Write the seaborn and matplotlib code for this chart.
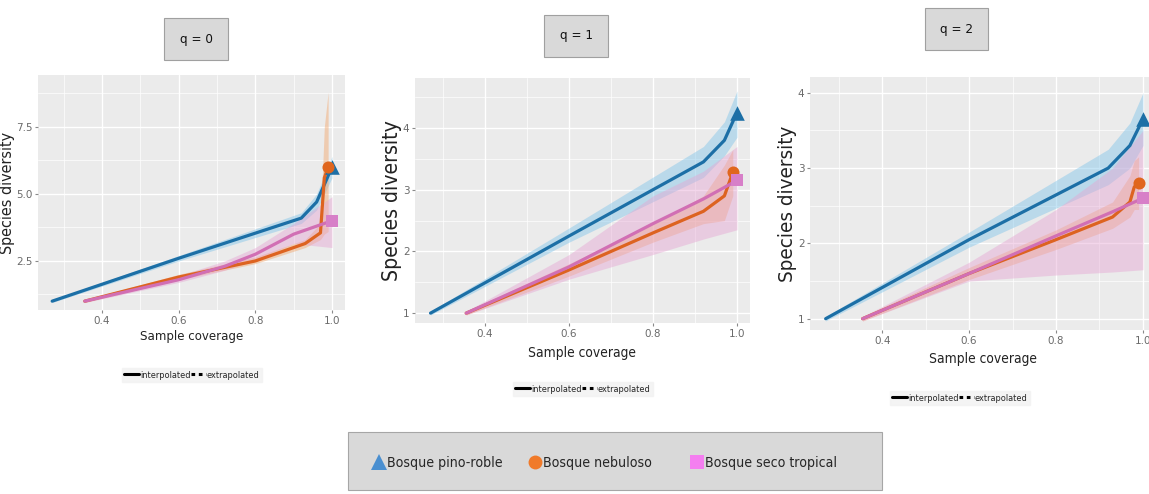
import numpy as np
import pandas as pd
import matplotlib
matplotlib.use("Agg")
import matplotlib.pyplot as plt
import seaborn as sns
from matplotlib import font_manager as fm
from matplotlib.patches import Rectangle
from matplotlib.lines import Line2D
from matplotlib.ticker import AutoMinorLocator, FixedLocator

# ---------------- data ----------------
sites = ["Bosque pino-roble", "Bosque nebuloso", "Bosque seco tropical"]
panel_titles = ["q = 0", "q = 1", "q = 2"]

# q = 0
q0_pr_x = [0.27, 0.60, 0.92, 0.96, 1.00]
q0_pr_y = [1.00, 2.60, 4.10, 4.70, 6.00]
q0_pr_lo = [0.95, 2.50, 3.90, 4.40, 5.60]
q0_pr_hi = [1.05, 2.70, 4.30, 5.00, 6.40]
q0_nb_x = [0.355, 0.60, 0.80, 0.93, 0.97, 0.98, 0.99]
q0_nb_y = [1.00, 1.90, 2.50, 3.15, 3.55, 5.60, 6.00]
q0_nb_lo = [0.95, 1.80, 2.40, 3.00, 3.30, 3.50, 3.60]
q0_nb_hi = [1.05, 2.00, 2.65, 3.30, 3.90, 7.50, 8.80]
q0_st_x = [0.355, 0.60, 0.72, 0.80, 0.90, 1.00]
q0_st_y = [1.00, 1.80, 2.30, 2.75, 3.50, 4.00]
q0_st_lo = [0.95, 1.70, 2.15, 2.55, 3.15, 3.00]
q0_st_hi = [1.05, 1.95, 2.50, 3.00, 3.90, 4.90]

# q = 1
q1_pr_x = [0.27, 0.60, 0.92, 0.97, 1.00]
q1_pr_y = [1.00, 2.25, 3.45, 3.80, 4.25]
q1_pr_lo = [0.97, 2.15, 3.20, 3.55, 3.85]
q1_pr_hi = [1.03, 2.38, 3.70, 4.10, 4.60]
q1_nb_x = [0.355, 0.60, 0.80, 0.92, 0.97, 0.99]
q1_nb_y = [1.00, 1.70, 2.30, 2.65, 2.90, 3.28]
q1_nb_lo = [0.97, 1.60, 2.15, 2.45, 2.50, 2.90]
q1_nb_hi = [1.03, 1.80, 2.45, 2.90, 3.40, 3.65]
q1_st_x = [0.355, 0.60, 0.80, 0.92, 1.00]
q1_st_y = [1.00, 1.75, 2.45, 2.85, 3.15]
q1_st_lo = [0.97, 1.55, 1.95, 2.20, 2.35]
q1_st_hi = [1.03, 1.95, 2.90, 3.30, 3.70]

# q = 2
q2_pr_x = [0.27, 0.60, 0.92, 0.97, 1.00]
q2_pr_y = [1.00, 2.05, 3.00, 3.30, 3.65]
q2_pr_lo = [0.97, 1.95, 2.78, 3.00, 3.30]
q2_pr_hi = [1.03, 2.15, 3.25, 3.60, 4.00]
q2_nb_x = [0.355, 0.60, 0.80, 0.93, 0.97, 0.98, 0.99]
q2_nb_y = [1.00, 1.60, 2.05, 2.35, 2.55, 2.75, 2.80]
q2_nb_lo = [0.97, 1.52, 1.92, 2.20, 2.35, 2.45, 2.45]
q2_nb_hi = [1.03, 1.68, 2.18, 2.55, 2.90, 3.10, 3.15]
q2_st_x = [0.355, 0.60, 0.80, 0.93, 1.00]
q2_st_y = [1.00, 1.60, 2.10, 2.42, 2.60]
q2_st_lo = [0.97, 1.50, 1.58, 1.62, 1.65]
q2_st_hi = [1.03, 1.75, 2.45, 3.00, 3.50]

panels = [
    [(q0_pr_x, q0_pr_y, q0_pr_lo, q0_pr_hi), (q0_nb_x, q0_nb_y, q0_nb_lo, q0_nb_hi), (q0_st_x, q0_st_y, q0_st_lo, q0_st_hi)],
    [(q1_pr_x, q1_pr_y, q1_pr_lo, q1_pr_hi), (q1_nb_x, q1_nb_y, q1_nb_lo, q1_nb_hi), (q1_st_x, q1_st_y, q1_st_lo, q1_st_hi)],
    [(q2_pr_x, q2_pr_y, q2_pr_lo, q2_pr_hi), (q2_nb_x, q2_nb_y, q2_nb_lo, q2_nb_hi), (q2_st_x, q2_st_y, q2_st_lo, q2_st_hi)],
]
y_ticks = [[2.5, 5.0, 7.5], [1, 2, 3, 4], [1, 2, 3, 4]]
y_ticklabels = [["2.5", "5.0", "7.5"], ["1", "2", "3", "4"], ["1", "2", "3", "4"]]
x_ticks = [0.4, 0.6, 0.8, 1.0]
x_ticklabels = ["0.4", "0.6", "0.8", "1.0"]

# ---------------- style ----------------
sns.set_theme(style="darkgrid", rc={"axes.facecolor": "#ebebeb", "grid.color": "white"})
plt.rcParams["font.family"] = ["Liberation Sans", "DejaVu Sans"]

# look for a condensed sans font (reference uses a narrow Arial-like face)
narrow_fp = None
scale = 1.0
for f in fm.fontManager.ttflist:
    if f.name == "Liberation Sans Narrow" and f.style == "normal" and f.weight in (400, "normal", "regular"):
        narrow_fp = f.fname
        break
if narrow_fp is None:
    for f in fm.fontManager.ttflist:
        if "DejaVuSansCondensed.ttf" in f.fname:
            narrow_fp = f.fname
            scale = 0.92
            break


def nfont(size):
    if narrow_fp is not None:
        return fm.FontProperties(fname=narrow_fp, size=size * scale)
    return fm.FontProperties(family="Liberation Sans", size=size * 0.82)


line_colors = ["#1c6fa6", "#dd6320", "#d16fb4"]
band_colors = ["#7fc4ea", "#f3a56a", "#e6a6d3"]
marker_colors = ["#1c6fa6", "#e0661d", "#d77fc8"]
markers = ["^", "o", "s"]
marker_sizes = [110, 75, 70]
legend_marker_colors = ["#4a8fd0", "#f07a2a", "#f47ef0"]

fig = plt.figure(figsize=(11.49, 4.94), dpi=100)
W, H = 1149.0, 494.0

axes_px = [(38, 75, 345, 310), (415, 78, 750, 323), (810, 77, 1156, 330)]
xlims = [(0.233, 1.034), (0.233, 1.031), (0.234, 1.03)]
ylims = [(0.67, 9.44), (0.84, 4.81), (0.85, 4.21)]
title_boxes = [(164, 18, 228, 60), (544, 15, 608, 57), (925, 8, 988, 50)]
legend_y = [375, 389, 398]
legend_x = [192, 583, 960]
ylabel_sizes = [12.5, 16.5, 16]
xlabel_sizes = [10.3, 10.8, 10.8]
xlabel_pads = [3, 5, 5]

for i in range(3):
    l, t, r, b = axes_px[i]
    ax = fig.add_axes([l / W, 1 - b / H, (r - l) / W, (b - t) / H])
    rows = []
    for k, (xs, ys, lo, hi) in enumerate(panels[i]):
        ax.fill_between(xs, lo, hi, color=band_colors[k], alpha=0.45, linewidth=0, zorder=1)
        for xx, yy in zip(xs, ys):
            rows.append({"x": xx, "y": yy, "site": sites[k]})
    df = pd.DataFrame(rows)
    sns.lineplot(data=df, x="x", y="y", hue="site", palette=dict(zip(sites, line_colors)),
                 estimator=None, sort=False, legend=False, linewidth=2.3, ax=ax, zorder=3)
    for k, (xs, ys, lo, hi) in enumerate(panels[i]):
        ax.scatter([xs[-1]], [ys[-1]], marker=markers[k], s=marker_sizes[k], color=marker_colors[k],
                   zorder=4, linewidths=0)
    ax.set_xlim(*xlims[i])
    ax.set_ylim(*ylims[i])
    ax.xaxis.set_major_locator(FixedLocator(x_ticks))
    ax.set_xticklabels(x_ticklabels, fontproperties=nfont(9))
    ax.yaxis.set_major_locator(FixedLocator(y_ticks[i]))
    ax.set_yticklabels(y_ticklabels[i], fontproperties=nfont(9))
    ax.xaxis.set_minor_locator(AutoMinorLocator(2))
    ax.yaxis.set_minor_locator(AutoMinorLocator(2))
    ax.grid(which="major", color="white", linewidth=1.0)
    ax.grid(which="minor", color="white", linewidth=0.5)
    ax.tick_params(axis="both", which="major", labelcolor="#6a6a6a",
                   length=2.5, width=0.8, color="#8a8a8a", pad=1.5, bottom=True, left=True)
    ax.tick_params(which="minor", length=0)
    for s in ax.spines.values():
        s.set_visible(False)
    ax.set_xlabel("Sample coverage", fontproperties=nfont(xlabel_sizes[i]), color="#222222",
                  labelpad=xlabel_pads[i])
    ax.set_ylabel("Species diversity", fontproperties=nfont(ylabel_sizes[i]), color="#222222",
                  labelpad=0.5)

    # line-type legend below each panel
    handles = [Line2D([0], [0], color="black", lw=2.2, ls="-"),
               Line2D([0], [0], color="black", lw=2.2, ls=(0, (1.2, 1.2)))]
    leg = fig.legend(handles, ["interpolated", "extrapolated"], loc="center",
                     bbox_to_anchor=(legend_x[i] / W, 1 - legend_y[i] / H), ncol=2, frameon=True,
                     prop=nfont(7.2), handlelength=1.6, handletextpad=0.1, columnspacing=0.1,
                     borderpad=0.3, fancybox=False)
    leg.get_frame().set_facecolor("#f2f2f2")
    leg.get_frame().set_edgecolor("#f2f2f2")

    # title box
    bl, bt, br, bb = title_boxes[i]
    fig.add_artist(Rectangle((bl / W, 1 - bb / H), (br - bl) / W, (bb - bt) / H,
                             transform=fig.transFigure, facecolor="#d9d9d9",
                             edgecolor="#a0a0a0", linewidth=0.8))
    fig.text((bl + br) / 2 / W, 1 - (bt + bb) / 2 / H, panel_titles[i], ha="center",
             va="center", color="#111111", fontproperties=nfont(10.5))

# bottom species legend (one entry per legend, placed as in the reference)
fig.add_artist(Rectangle((348 / W, 1 - 490 / H), (882 - 348) / W, (490 - 432) / H,
                         transform=fig.transFigure, facecolor="#d9d9d9",
                         edgecolor="#a6a6a6", linewidth=0.8))
entry_x = [372, 528, 690]
legend_msizes = [12, 10, 10]
for k in range(3):
    h = Line2D([0], [0], marker=markers[k], ls="none", markersize=legend_msizes[k],
               markerfacecolor=legend_marker_colors[k], markeredgewidth=0)
    fig.legend([h], [sites[k]], loc="center left", bbox_to_anchor=(entry_x[k] / W, 1 - 463 / H),
               frameon=False, prop=nfont(11), handletextpad=0.05, handlelength=1.0,
               borderpad=0, borderaxespad=0)

fig.savefig("out.png", dpi=100, facecolor="white")
